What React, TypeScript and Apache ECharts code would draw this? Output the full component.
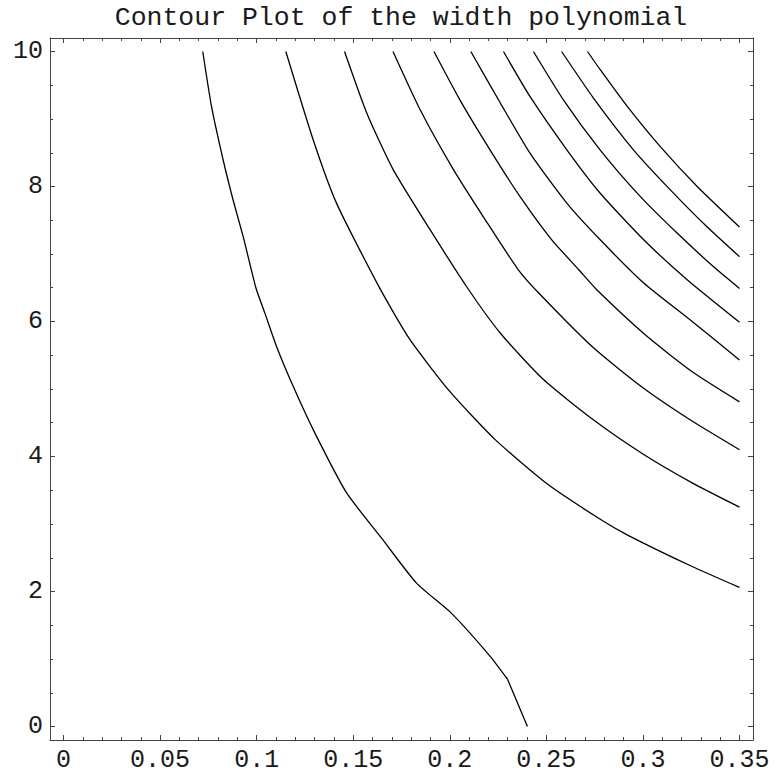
import React, { useEffect, useRef } from "react";
import * as echarts from "echarts";

const titleText = "Contour Plot of the width polynomial";

const xMajorTicks = [0, 0.05, 0.1, 0.15, 0.2, 0.25, 0.3, 0.35];
const xMinorTicks = [
  0.01, 0.02, 0.03, 0.04, 0.06, 0.07, 0.08, 0.09, 0.11, 0.12, 0.13, 0.14,
  0.16, 0.17, 0.18, 0.19, 0.21, 0.22, 0.23, 0.24, 0.26, 0.27, 0.28, 0.29,
  0.31, 0.32, 0.33, 0.34,
];
const yMajorTicks = [0, 2, 4, 6, 8, 10];
const yMinorTicks = [0.5, 1, 1.5, 2.5, 3, 3.5, 4.5, 5, 5.5, 6.5, 7, 7.5, 8.5, 9, 9.5];

// contour 1: upper smooth part, then the short straight tail to the x axis
const contour1 = [
  [0.0721, 10], [0.0766, 9.19], [0.0826, 8.4], [0.0878, 7.8], [0.093, 7.26],
  [0.0996, 6.5], [0.1043, 6.12], [0.1103, 5.63], [0.1189, 5.04], [0.1301, 4.35],
  [0.1466, 3.46], [0.1647, 2.79], [0.1829, 2.12], [0.2008, 1.68],
  [0.2209, 1.04], [0.2299, 0.7],
];
const contour1Tail = [[0.2299, 0.7], [0.2402, 0]];
const contour2 = [
  [0.1151, 10], [0.1293, 8.69], [0.1414, 7.75], [0.1638, 6.49], [0.1794, 5.73],
  [0.2001, 4.96], [0.2235, 4.25], [0.2511, 3.58], [0.2779, 3.07], [0.2918, 2.84],
  [0.3255, 2.37], [0.35, 2.06],
];
const contour3 = [
  [0.1455, 10], [0.157, 9.09], [0.1707, 8.25], [0.1898, 7.36], [0.2091, 6.5],
  [0.2261, 5.83], [0.2485, 5.14], [0.2745, 4.54], [0.3004, 4.03], [0.3255, 3.61],
  [0.35, 3.25],
];
const contour4 = [
  [0.1706, 10], [0.1846, 9.14], [0.2019, 8.25], [0.2183, 7.51], [0.2354, 6.77],
  [0.2468, 6.4], [0.2744, 5.61], [0.3004, 5.01], [0.3246, 4.54], [0.35, 4.1],
];
const contour5 = [
  [0.1918, 10], [0.2053, 9.28], [0.2209, 8.54], [0.2364, 7.85], [0.2528, 7.21],
  [0.2667, 6.77], [0.2761, 6.47], [0.3021, 5.78], [0.3263, 5.24], [0.35, 4.81],
];
const contour6 = [
  [0.2109, 10], [0.2261, 9.24], [0.2416, 8.49], [0.2607, 7.75], [0.2779, 7.21],
  [0.3004, 6.57], [0.3255, 6.0], [0.35, 5.43],
];
const contour7 = [
  [0.2278, 10], [0.2416, 9.33], [0.2607, 8.54], [0.2779, 7.9], [0.3004, 7.21],
  [0.3229, 6.62], [0.35, 5.99],
];
const contour8 = [
  [0.2433, 10], [0.2589, 9.28], [0.2779, 8.54], [0.2987, 7.85], [0.3177, 7.31],
  [0.3366, 6.81], [0.35, 6.49],
];
const contour9 = [
  [0.2579, 10], [0.2744, 9.31], [0.2952, 8.54], [0.3142, 7.95], [0.3329, 7.41],
  [0.35, 6.96],
];
const contour10 = [
  [0.2713, 10], [0.2779, 9.73], [0.2918, 9.19], [0.309, 8.59], [0.3281, 8.0],
  [0.35, 7.4],
];

const smoothContours = [
  contour1, contour2, contour3, contour4, contour5,
  contour6, contour7, contour8, contour9, contour10,
];

const X_MIN = -0.007;
const X_MAX = 0.357;
const Y_MIN = -0.2;
const Y_MAX = 10.2;

const FRAME = "#444";
const TEXT = "#1a1a1a";
const MONO = "Liberation Mono, DejaVu Sans Mono, monospace";

function makeXAxis(position: "bottom" | "top", major: boolean, labels: boolean) {
  return {
    type: "value",
    position,
    min: X_MIN,
    max: X_MAX,
    axisLine: { show: major, onZero: false, lineStyle: { color: FRAME, width: 1 } },
    axisTick: {
      show: true,
      inside: true,
      length: major ? 5 : 3,
      customValues: major ? xMajorTicks : xMinorTicks,
      lineStyle: { color: FRAME, width: 1 },
    },
    axisLabel: {
      show: labels,
      customValues: xMajorTicks,
      margin: 8,
      fontFamily: MONO,
      fontSize: 25,
      color: TEXT,
      formatter: (v: number) => String(v),
    },
    splitLine: { show: false },
  };
}

function makeYAxis(position: "left" | "right", major: boolean, labels: boolean) {
  return {
    type: "value",
    position,
    min: Y_MIN,
    max: Y_MAX,
    axisLine: { show: major, onZero: false, lineStyle: { color: FRAME, width: 1 } },
    axisTick: {
      show: true,
      inside: true,
      length: major ? 5 : 3,
      customValues: major ? yMajorTicks : yMinorTicks,
      lineStyle: { color: FRAME, width: 1 },
    },
    axisLabel: {
      show: labels,
      customValues: yMajorTicks,
      margin: 7,
      fontFamily: MONO,
      fontSize: 25,
      color: TEXT,
      formatter: (v: number) => String(v),
    },
    splitLine: { show: false },
  };
}

const lineBase = {
  type: "line",
  xAxisIndex: 0,
  yAxisIndex: 0,
  showSymbol: false,
  symbol: "none",
  lineStyle: { color: "#000", width: 1.3 },
  silent: true,
};

export default function App() {
  const ref = useRef<HTMLDivElement>(null);

  useEffect(() => {
    if (!ref.current) return;
    const chart = echarts.init(ref.current, null, { renderer: "svg" });
    chart.setOption({
      animation: false,
      backgroundColor: "#fff",
      graphic: [
        {
          type: "text",
          x: 401,
          y: 18,
          style: {
            text: titleText,
            fontFamily: MONO,
            fontSize: 26.5,
            fill: TEXT,
            textAlign: "center",
            textVerticalAlign: "middle",
          },
        },
      ],
      grid: { left: 50, top: 38, width: 703, height: 702, containLabel: false },
      xAxis: [
        makeXAxis("bottom", true, true),
        makeXAxis("bottom", false, false),
        makeXAxis("top", true, false),
        makeXAxis("top", false, false),
      ],
      yAxis: [
        makeYAxis("left", true, true),
        makeYAxis("left", false, false),
        makeYAxis("right", true, false),
        makeYAxis("right", false, false),
      ],
      series: [
        ...smoothContours.map((c, i) => ({
          ...lineBase,
          name: "contour" + (i + 1),
          data: c,
          smooth: 0.2,
        })),
        { ...lineBase, name: "contour1tail", data: contour1Tail, smooth: false },
      ],
    });
    return () => chart.dispose();
  }, []);

  return (
    <div
      ref={ref}
      style={{ position: "fixed", left: 0, top: 0, width: 774, height: 775 }}
    />
  );
}
